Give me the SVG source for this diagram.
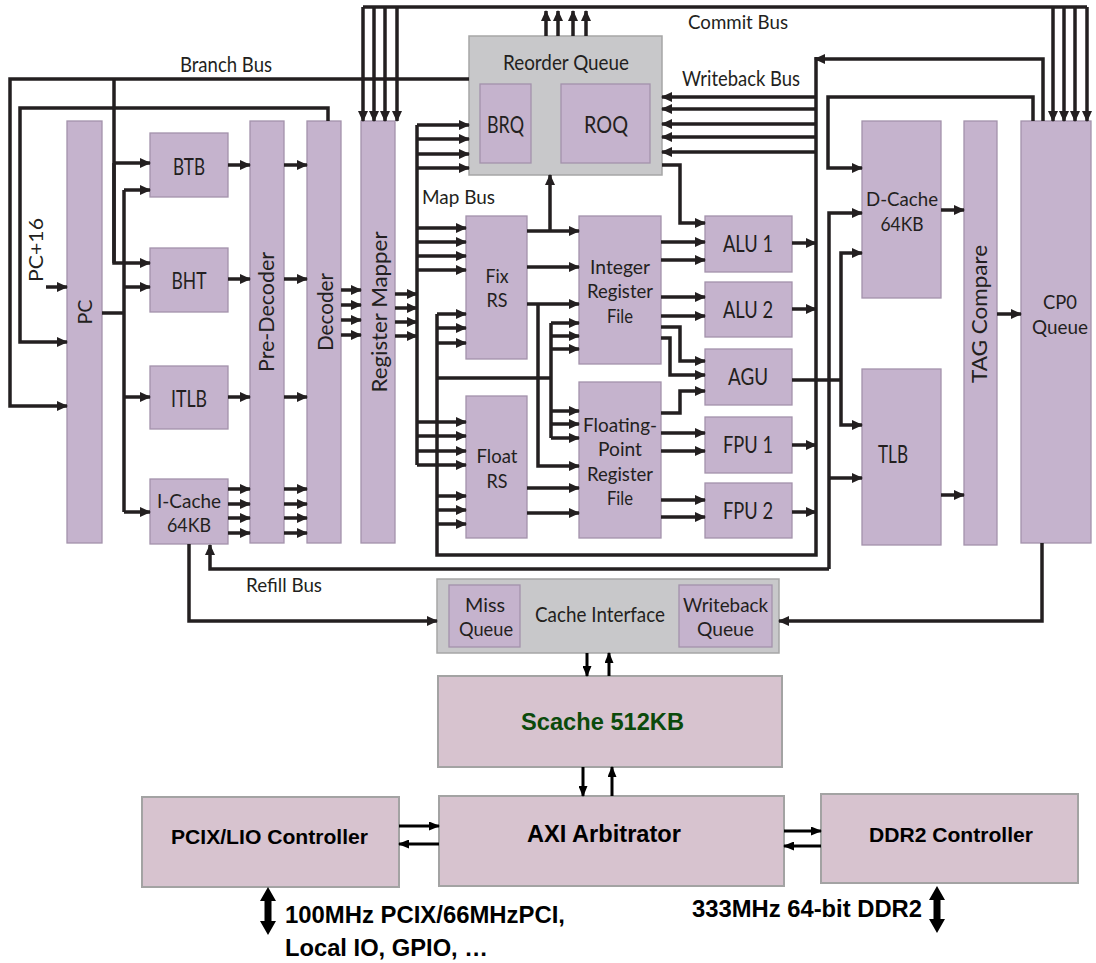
<svg xmlns="http://www.w3.org/2000/svg" width="1096" height="963" viewBox="0 0 1096 963">
<defs>
<marker id="ah" viewBox="0 0 11 10" refX="10" refY="5" markerWidth="11" markerHeight="10" markerUnits="userSpaceOnUse" orient="auto"><path d="M0,0 L11,5 L0,10 z" fill="#231f20"/></marker>
<marker id="as" viewBox="0 0 11 9" refX="10" refY="4.5" markerWidth="11" markerHeight="9" markerUnits="userSpaceOnUse" orient="auto"><path d="M0,0 L11,4.5 L0,9 z" fill="#000"/></marker>
</defs>
<style>
.b{fill:#c5b3cd;stroke:#a392ab;stroke-width:1.3}
.g{fill:#c8c8ca;stroke:#a6a6a6;stroke-width:1.5}
.p{fill:#d7c3cf;stroke:#a3a3a3;stroke-width:2}
.t{font-family:Lato,"Open Sans",sans-serif;fill:#231f20}
.m{text-anchor:middle}
.k{font-family:"Liberation Sans",Arial,sans-serif;font-weight:bold;fill:#000}
.w{fill:none;stroke:#231f20;stroke-width:3.5;stroke-linejoin:miter}
.w path{marker-end:url(#ah)}
.n{fill:none;stroke:#000;stroke-width:3}
</style>
<rect width="1096" height="963" fill="#fff"/>

<g id="pc"><rect class="b" x="67" y="121" width="35" height="422"/><text class="t m" font-size="20" textLength="25" lengthAdjust="spacingAndGlyphs" transform="translate(92,312) rotate(-90)">PC</text></g>
<g id="btb"><rect class="b" x="150" y="133" width="78" height="64"/><text class="t m" x="189" y="175" font-size="24" textLength="32" lengthAdjust="spacingAndGlyphs">BTB</text></g>
<g id="bht"><rect class="b" x="150" y="248" width="78" height="64"/><text class="t m" x="189" y="289" font-size="24" textLength="35" lengthAdjust="spacingAndGlyphs">BHT</text></g>
<g id="itlb"><rect class="b" x="150" y="366" width="78" height="63"/><text class="t m" x="189" y="407" font-size="24" textLength="36" lengthAdjust="spacingAndGlyphs">ITLB</text></g>
<g id="icache"><rect class="b" x="150" y="479" width="78" height="65"/><text class="t m" x="189" y="508" font-size="20" textLength="64" lengthAdjust="spacingAndGlyphs">I-Cache</text><text class="t m" x="189" y="532" font-size="20" textLength="44" lengthAdjust="spacingAndGlyphs">64KB</text></g>
<g id="predecoder"><rect class="b" x="250" y="121" width="34" height="422"/><text class="t m" font-size="22" textLength="120" lengthAdjust="spacingAndGlyphs" transform="translate(274,312) rotate(-90)">Pre-Decoder</text></g>
<g id="decoder"><rect class="b" x="307" y="121" width="34" height="422"/><text class="t m" font-size="21" textLength="78" lengthAdjust="spacingAndGlyphs" transform="translate(333,312) rotate(-90)">Decoder</text></g>
<g id="regmapper"><rect class="b" x="361" y="121" width="34" height="422"/><text class="t m" font-size="22" textLength="161" lengthAdjust="spacingAndGlyphs" transform="translate(387,312) rotate(-90)">Register Mapper</text></g>
<g id="reorder"><rect class="g" x="469" y="36" width="193" height="139"/><text class="t m" x="566" y="70" font-size="22" textLength="126" lengthAdjust="spacingAndGlyphs">Reorder Queue</text>
<rect class="b" x="480" y="84" width="51" height="79"/><text class="t m" x="505.5" y="133" font-size="24" textLength="37" lengthAdjust="spacingAndGlyphs">BRQ</text>
<rect class="b" x="561" y="84" width="89" height="79"/><text class="t m" x="606" y="133" font-size="24" textLength="44" lengthAdjust="spacingAndGlyphs">ROQ</text></g>
<g id="fixrs"><rect class="b" x="466" y="216" width="61" height="143"/><text class="t m" x="497" y="283" font-size="20" textLength="23" lengthAdjust="spacingAndGlyphs">Fix</text><text class="t m" x="497" y="307" font-size="20" textLength="21" lengthAdjust="spacingAndGlyphs">RS</text></g>
<g id="floatrs"><rect class="b" x="466" y="396" width="61" height="142"/><text class="t m" x="497" y="463" font-size="20" textLength="41" lengthAdjust="spacingAndGlyphs">Float</text><text class="t m" x="497" y="488" font-size="20" textLength="21" lengthAdjust="spacingAndGlyphs">RS</text></g>
<g id="intrf"><rect class="b" x="579" y="216" width="82" height="148"/><text class="t m" x="620" y="274" font-size="20" textLength="60" lengthAdjust="spacingAndGlyphs">Integer</text><text class="t m" x="620" y="298" font-size="20" textLength="66" lengthAdjust="spacingAndGlyphs">Register</text><text class="t m" x="620" y="323" font-size="20" textLength="26" lengthAdjust="spacingAndGlyphs">File</text></g>
<g id="fprf"><rect class="b" x="579" y="382" width="82" height="156"/><text class="t m" x="620" y="432" font-size="20" textLength="74" lengthAdjust="spacingAndGlyphs">Floating-</text><text class="t m" x="620" y="456" font-size="20" textLength="44" lengthAdjust="spacingAndGlyphs">Point</text><text class="t m" x="620" y="481" font-size="20" textLength="66" lengthAdjust="spacingAndGlyphs">Register</text><text class="t m" x="620" y="505" font-size="20" textLength="26" lengthAdjust="spacingAndGlyphs">File</text></g>
<g id="alu1"><rect class="b" x="705" y="216" width="87" height="56"/><text class="t m" x="748" y="252" font-size="24" textLength="50" lengthAdjust="spacingAndGlyphs">ALU 1</text></g>
<g id="alu2"><rect class="b" x="705" y="282" width="87" height="55"/><text class="t m" x="748" y="318" font-size="24" textLength="50" lengthAdjust="spacingAndGlyphs">ALU 2</text></g>
<g id="agu"><rect class="b" x="705" y="349" width="87" height="56"/><text class="t m" x="748" y="385" font-size="24" textLength="40" lengthAdjust="spacingAndGlyphs">AGU</text></g>
<g id="fpu1"><rect class="b" x="705" y="417" width="87" height="56"/><text class="t m" x="748" y="453" font-size="24" textLength="50" lengthAdjust="spacingAndGlyphs">FPU 1</text></g>
<g id="fpu2"><rect class="b" x="705" y="483" width="87" height="55"/><text class="t m" x="748" y="519" font-size="24" textLength="50" lengthAdjust="spacingAndGlyphs">FPU 2</text></g>
<g id="dcache"><rect class="b" x="862" y="121" width="79" height="177"/><text class="t m" x="902" y="206" font-size="20" textLength="72" lengthAdjust="spacingAndGlyphs">D-Cache</text><text class="t m" x="902" y="231" font-size="20" textLength="43" lengthAdjust="spacingAndGlyphs">64KB</text></g>
<g id="tlb"><rect class="b" x="862" y="369" width="79" height="176"/><text class="t m" x="893" y="463" font-size="25" textLength="30" lengthAdjust="spacingAndGlyphs">TLB</text></g>
<g id="tag"><rect class="b" x="964" y="121" width="33" height="424"/><text class="t m" font-size="21" textLength="138" lengthAdjust="spacingAndGlyphs" transform="translate(987,314) rotate(-90)">TAG Compare</text></g>
<g id="cp0"><rect class="b" x="1021" y="121" width="70" height="422"/><text class="t m" x="1060" y="309" font-size="20" textLength="34" lengthAdjust="spacingAndGlyphs">CP0</text><text class="t m" x="1060" y="334" font-size="20" textLength="56" lengthAdjust="spacingAndGlyphs">Queue</text></g>
<g id="cacheif"><rect class="g" x="437" y="579" width="342" height="74"/><text class="t m" x="600" y="622" font-size="22" textLength="130" lengthAdjust="spacingAndGlyphs">Cache Interface</text>
<rect class="b" x="449" y="585" width="71" height="62"/><text class="t m" x="485" y="612" font-size="20" textLength="40" lengthAdjust="spacingAndGlyphs">Miss</text><text class="t m" x="486" y="636" font-size="20" textLength="54" lengthAdjust="spacingAndGlyphs">Queue</text>
<rect class="b" x="679" y="585" width="93" height="62"/><text class="t m" x="725.5" y="612" font-size="20" textLength="85" lengthAdjust="spacingAndGlyphs">Writeback</text><text class="t m" x="725.5" y="636" font-size="20" textLength="57" lengthAdjust="spacingAndGlyphs">Queue</text></g>
<g id="scache"><rect class="p" x="438" y="676" width="344" height="91"/><text class="k m" x="602.5" y="730" font-size="23.5" style="fill:#0b4a0b" textLength="163" lengthAdjust="spacingAndGlyphs">Scache 512KB</text></g>
<g id="axi"><rect class="p" x="439" y="796" width="345" height="90"/><text class="k m" x="604" y="842" font-size="23.5" textLength="154" lengthAdjust="spacingAndGlyphs">AXI Arbitrator</text></g>
<g id="pcix"><rect class="p" x="142" y="797" width="257" height="90"/><text class="k m" x="269.5" y="844" font-size="21" textLength="197" lengthAdjust="spacingAndGlyphs">PCIX/LIO Controller</text></g>
<g id="ddr2"><rect class="p" x="821" y="794" width="257" height="89"/><text class="k m" x="951" y="842" font-size="21" textLength="164" lengthAdjust="spacingAndGlyphs">DDR2 Controller</text></g>

<g id="labels">
<text class="t" x="180" y="72" font-size="21" textLength="92" lengthAdjust="spacingAndGlyphs">Branch Bus</text>
<text class="t" x="688" y="29" font-size="20" textLength="100" lengthAdjust="spacingAndGlyphs">Commit Bus</text>
<text class="t" x="682" y="86" font-size="21" textLength="118" lengthAdjust="spacingAndGlyphs">Writeback Bus</text>
<text class="t" x="422" y="204" font-size="20" textLength="73" lengthAdjust="spacingAndGlyphs">Map Bus</text>
<text class="t" x="246" y="592" font-size="20" textLength="76" lengthAdjust="spacingAndGlyphs">Refill Bus</text>
<text class="t m" font-size="20" textLength="64" lengthAdjust="spacingAndGlyphs" transform="translate(43,250) rotate(-90)">PC+16</text>
<text class="k" x="285" y="923" font-size="24" textLength="280" lengthAdjust="spacingAndGlyphs">100MHz PCIX/66MHzPCI,</text>
<text class="k" x="285" y="956" font-size="24" textLength="203" lengthAdjust="spacingAndGlyphs">Local IO, GPIO, …</text>
<text class="k" x="692" y="917" font-size="24" textLength="230" lengthAdjust="spacingAndGlyphs">333MHz 64-bit DDR2</text>
</g>

<g id="connectors">
<g class="w">
<line x1="363" y1="7" x2="1087" y2="7"/>
<line x1="102" y1="313" x2="124" y2="313"/>
<line x1="124" y1="190" x2="124" y2="512"/>
<line x1="417" y1="125" x2="417" y2="465"/>
<polyline points="816,57 816,555 437,555 437,314"/>
<line x1="437" y1="378" x2="551" y2="378"/>
<line x1="551" y1="323" x2="551" y2="438"/>
<line x1="792" y1="380" x2="841" y2="380"/>
<line x1="114" y1="163" x2="114" y2="263"/>
<path d="M363,7 V121"/><path d="M374,7 V121"/><path d="M385,7 V121"/><path d="M397,7 V121"/>
<path d="M1053,7 V121"/><path d="M1064,7 V121"/><path d="M1075,7 V121"/><path d="M1087,7 V121"/>
<path d="M546,36 V11"/><path d="M558,36 V11"/><path d="M573,36 V11"/><path d="M586,36 V11"/>
<path d="M469,79 H10 V406 H67"/>
<path d="M114,79 V263 H150"/>
<path d="M114,163 H150"/>
<path d="M328,121 V108 H20 V342 H67"/>
<path d="M46,287 H67"/>
<path d="M124,190 H150"/><path d="M124,287 H150"/><path d="M124,397 H150"/><path d="M124,512 H150"/>
<path d="M228,165 H250"/><path d="M228,279 H250"/><path d="M228,397 H250"/>
<path d="M228,489 H250"/><path d="M228,504 H250"/><path d="M228,518 H250"/><path d="M228,533 H250"/>
<path d="M284,165 H307"/><path d="M284,279 H307"/><path d="M284,397 H307"/>
<path d="M284,489 H307"/><path d="M284,504 H307"/><path d="M284,518 H307"/><path d="M284,533 H307"/>
<path d="M341,290 H361"/><path d="M341,305 H361"/><path d="M341,320 H361"/><path d="M341,335 H361"/>
<path d="M395,294 H417"/><path d="M395,308 H417"/><path d="M395,322 H417"/><path d="M395,336 H417"/>
<path d="M417,125 H469"/><path d="M417,139 H469"/><path d="M417,154 H469"/><path d="M417,168 H469"/>
<path d="M417,228 H466"/><path d="M417,242 H466"/><path d="M417,256 H466"/><path d="M417,270 H466"/>
<path d="M417,422 H466"/><path d="M417,436 H466"/><path d="M417,451 H466"/><path d="M417,465 H466"/>
<path d="M1043,121 V59 H815"/>
<path d="M816,97 H662"/><path d="M816,109 H662"/><path d="M816,124 H662"/><path d="M816,137 H662"/><path d="M816,152 H662"/>
<path d="M792,243 H816"/><path d="M792,309 H816"/><path d="M792,445 H816"/><path d="M792,512 H816"/>
<path d="M437,314 H466"/><path d="M437,328 H466"/><path d="M437,343 H466"/>
<path d="M437,496 H466"/><path d="M437,510 H466"/><path d="M437,524 H466"/>
<path d="M551,323 H579"/><path d="M551,336 H579"/><path d="M551,349 H579"/>
<path d="M551,411 H579"/><path d="M551,424 H579"/><path d="M551,438 H579"/>
<path d="M527,231 H579"/><path d="M550,231 V175"/>
<path d="M527,267 H579"/><path d="M527,304 H579"/>
<path d="M538,304 V466 H579"/>
<path d="M527,488 H579"/><path d="M527,513 H579"/>
<path d="M661,242 H705"/><path d="M661,260 H705"/><path d="M661,297 H705"/><path d="M661,316 H705"/>
<path d="M661,327 H680 V361 H705"/>
<path d="M661,338 H670 V375 H705"/>
<path d="M661,413 H680 V391 H705"/>
<path d="M661,433 H705"/><path d="M661,451 H705"/><path d="M661,500 H705"/><path d="M661,517 H705"/>
<path d="M662,165 H680 V223 H705"/>
<path d="M841,380 V253 H862"/>
<path d="M841,380 V425 H862"/>
<path d="M1033,121 V97 H828 V168 H862"/>
<path d="M829,569 V213 H862"/>
<path d="M829,569 H210 V545"/>
<path d="M829,478 H862"/>
<path d="M941,210 H964"/><path d="M941,495 H964"/><path d="M997,314 H1021"/>
<path d="M189,544 V621 H437"/>
<path d="M1042,543 V621 H779"/>
</g>
<g class="n">
<path d="M587,653 V676" marker-end="url(#as)"/>
<path d="M609,676 V653" marker-end="url(#as)"/>
<path d="M583,767 V796" marker-end="url(#as)"/>
<path d="M612,796 V767" marker-end="url(#as)"/>
<path d="M399,826 H439" marker-end="url(#as)"/>
<path d="M439,844 H399" marker-end="url(#as)"/>
<path d="M784,831 H821" marker-end="url(#as)"/>
<path d="M821,846 H784" marker-end="url(#as)"/>
</g>
<polygon fill="#000" points="268,887 276,901 271.5,901 271.5,921 276,921 268,935 260,921 264.5,921 264.5,901 260,901"/>
<polygon fill="#000" points="937,886 945,900 940.5,900 940.5,919 945,919 937,933 929,919 933.5,919 933.5,900 929,900"/>
</g>
</svg>
